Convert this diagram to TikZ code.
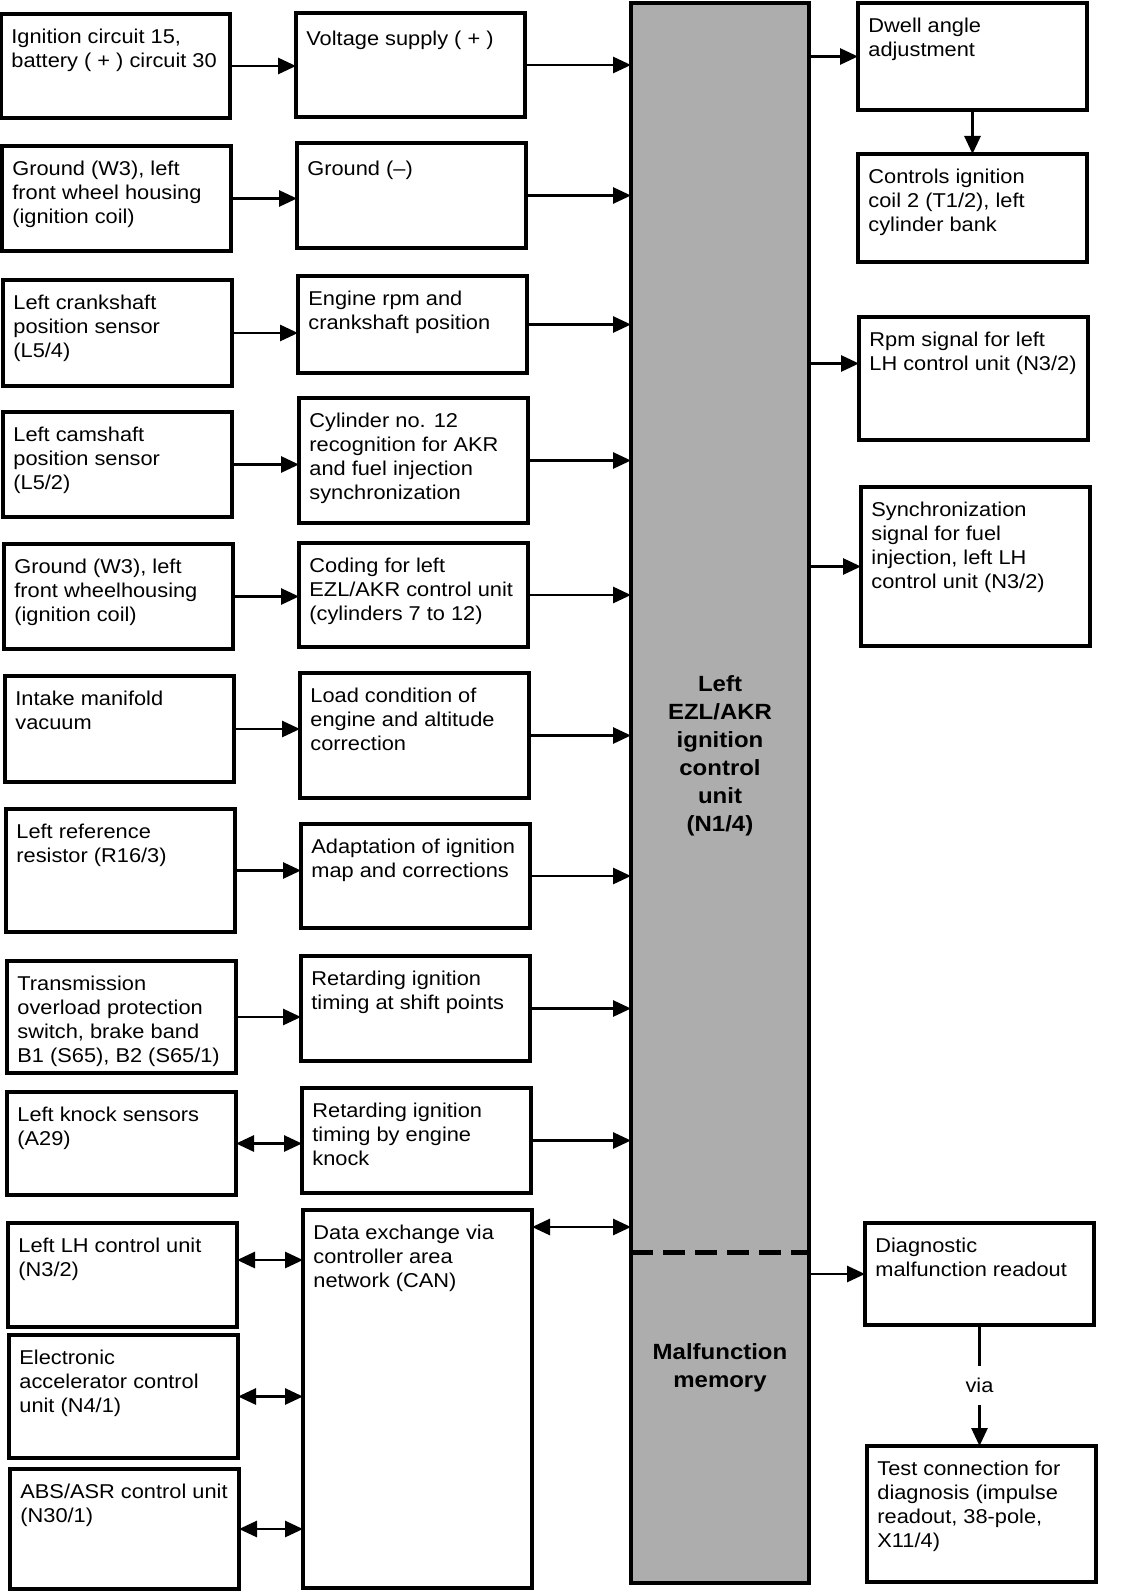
\documentclass[tikz,border=0pt]{standalone}
\usepackage{fontspec}
\setmainfont{Liberation Sans}[FakeStretch=1.09]
\usetikzlibrary{arrows.meta,positioning,calc}

\begin{document}
\begin{tikzpicture}[
    x=0.5pt, y=-0.5pt,
    block/.style={
        draw=black, line width=1.6pt, anchor=north west,
        outer sep=0pt, inner sep=0pt,
        minimum width=114.5pt, minimum height=#1
    },
    btext/.style={
        anchor=north west, inner sep=0pt, align=left,
        font=\fontsize{10}{12}\selectfont, execute at begin node=\strut
    },
    unittext/.style={
        align=center, font=\fontsize{11}{14}\selectfont\bfseries
    },
    arrow/.style={
        -{Triangle[length=9pt,width=8pt]}, line width=1.4pt
    },
    twoway/.style={
        {Triangle[length=9pt,width=8pt]}-{Triangle[length=9pt,width=8pt]}, line width=1.4pt
    },
    memline/.style={
        line width=2.5pt, dash pattern=on 11pt off 5pt
    },
    viatext/.style={
        fill=white, inner xsep=2pt, inner ysep=6pt, font=\fontsize{10}{12}\selectfont
    }
]
\useasboundingbox (0,0) rectangle (1120,1594);

% Control unit in the middle
\node[block=790pt, minimum width=89pt, fill=black!32] (unit) at (631,3) {};
\node[unittext] (unit-t) at (720,756) {Left\\EZL/AKR\\ignition\\control\\unit\\(N1/4)};
\node[unittext] (mem-t) at (720,1368) {Malfunction\\memory};
\coordinate (sep) at (720,1252);
\draw[memline] (unit.west |- sep) -- (unit.east |- sep);

% Input sources (left column)
\node[block=52pt] (ign) at (1,14) {};
\node[btext] (ign-t) at ([shift={(10,15)}]ign.north west) {Ignition circuit 15,\\battery ( + ) circuit 30};
\node[block=52.5pt] (gnd) at (2,146) {};
\node[btext] (gnd-t) at ([shift={(10,15)}]gnd.north west) {Ground (W3), left\\front wheel housing\\(ignition coil)};
\node[block=53pt] (crank) at (3,280) {};
\node[btext] (crank-t) at ([shift={(10,15)}]crank.north west) {Left crankshaft\\position sensor\\(L5/4)};
\node[block=52.5pt] (cam) at (3,412) {};
\node[btext] (cam-t) at ([shift={(10,15)}]cam.north west) {Left camshaft\\position sensor\\(L5/2)};
\node[block=52.5pt] (gndb) at (4,544) {};
\node[btext] (gndb-t) at ([shift={(10,15)}]gndb.north west) {Ground (W3), left\\front wheelhousing\\(ignition coil)};
\node[block=53pt] (vac) at (5,676) {};
\node[btext] (vac-t) at ([shift={(10,15)}]vac.north west) {Intake manifold\\vacuum};
\node[block=61.5pt] (ref) at (6,809) {};
\node[btext] (ref-t) at ([shift={(10,15)}]ref.north west) {Left reference\\resistor (R16/3)};
\node[block=56pt] (trans) at (7,961) {};
\node[btext] (trans-t) at ([shift={(10,15)}]trans.north west) {Transmission\\overload protection\\switch, brake band\\B1 (S65), B2 (S65/1)};
\node[block=51.5pt] (knock) at (7,1092) {};
\node[btext] (knock-t) at ([shift={(10,15)}]knock.north west) {Left knock sensors\\(A29)};
\node[block=52pt] (lh) at (8,1223) {};
\node[btext] (lh-t) at ([shift={(10,15)}]lh.north west) {Left LH control unit\\(N3/2)};
\node[block=61.5pt] (eacc) at (9,1335) {};
\node[btext] (eacc-t) at ([shift={(10,15)}]eacc.north west) {Electronic\\accelerator control\\unit (N4/1)};
\node[block=60pt] (abs) at (10,1469) {};
\node[btext] (abs-t) at ([shift={(10,15)}]abs.north west) {ABS/ASR control unit\\(N30/1)};

% Signals (middle column)
\node[block=52pt] (volt) at (296,13) {};
\node[btext] (volt-t) at ([shift={(10,15)}]volt.north west) {Voltage supply ( + )};
\node[block=52.5pt] (gndm) at (297,143) {};
\node[btext] (gndm-t) at ([shift={(10,15)}]gndm.north west) {Ground (–)};
\node[block=48.5pt] (eng) at (298,276) {};
\node[btext] (eng-t) at ([shift={(10,15)}]eng.north west) {Engine rpm and\\crankshaft position};
\node[block=62.5pt] (cyl) at (299,398) {};
\node[btext] (cyl-t) at ([shift={(10,15)}]cyl.north west) {Cylinder no. 12\\recognition for AKR\\and fuel injection\\synchronization};
\node[block=52pt] (code) at (299,543) {};
\node[btext] (code-t) at ([shift={(10,15)}]code.north west) {Coding for left\\EZL/AKR control unit\\(cylinders 7 to 12)};
\node[block=62.5pt] (load) at (300,673) {};
\node[btext] (load-t) at ([shift={(10,15)}]load.north west) {Load condition of\\engine and altitude\\correction};
\node[block=52pt] (adapt) at (301,824) {};
\node[btext] (adapt-t) at ([shift={(10,15)}]adapt.north west) {Adaptation of ignition\\map and corrections};
\node[block=52.5pt] (shift) at (301,956) {};
\node[btext] (shift-t) at ([shift={(10,15)}]shift.north west) {Retarding ignition\\timing at shift points};
\node[block=52.5pt] (knockr) at (302,1088) {};
\node[btext] (knockr-t) at ([shift={(10,15)}]knockr.north west) {Retarding ignition\\timing by engine\\knock};
\node[block=189pt] (can) at (303,1210) {};
\node[btext] (can-t) at ([shift={(10,15)}]can.north west) {Data exchange via\\controller area\\network (CAN)};

% Outputs (right column)
\node[block=53.5pt] (dwell) at (858,3) {};
\node[btext] (dwell-t) at ([shift={(10,15)}]dwell.north west) {Dwell angle\\adjustment};
\node[block=54pt] (coil) at (858,154) {};
\node[btext] (coil-t) at ([shift={(10,15)}]coil.north west) {Controls ignition\\coil 2 (T1/2), left\\cylinder bank};
\node[block=61.5pt] (rpm) at (859,317) {};
\node[btext] (rpm-t) at ([shift={(10,15)}]rpm.north west) {Rpm signal for left\\LH control unit (N3/2)};
\node[block=79.5pt] (sync) at (861,487) {};
\node[btext] (sync-t) at ([shift={(10,15)}]sync.north west) {Synchronization\\signal for fuel\\injection, left LH\\control unit (N3/2)};
\node[block=51pt] (diag) at (865,1223) {};
\node[btext] (diag-t) at ([shift={(10,15)}]diag.north west) {Diagnostic\\malfunction readout};
\node[block=68pt] (test) at (867,1446) {};
\node[btext] (test-t) at ([shift={(10,15)}]test.north west) {Test connection for\\diagnosis (impulse\\readout, 38-pole,\\X11/4)};

% Arrows from sources to signals
\draw[arrow] (ign.east) -- (ign.east -| volt.west);
\draw[arrow] (gnd.east) -- (gnd.east -| gndm.west);
\draw[arrow] (crank.east) -- (crank.east -| eng.west);
\draw[arrow] (cam.east) -- (cam.east -| cyl.west);
\draw[arrow] (gndb.east) -- (gndb.east -| code.west);
\draw[arrow] (vac.east) -- (vac.east -| load.west);
\draw[arrow] (ref.east) -- (ref.east -| adapt.west);
\draw[arrow] (trans.east) -- (trans.east -| shift.west);
\draw[twoway] (knock.east) -- (knock.east -| knockr.west);
\coordinate (lhin) at ([yshift=7.5pt]lh.east);
\draw[twoway] (lhin) -- (lhin -| can.west);
\draw[twoway] (eacc.east) -- (eacc.east -| can.west);
\draw[twoway] (abs.east) -- (abs.east -| can.west);

% Arrows from signals into the control unit
\draw[arrow] (volt.east) -- (volt.east -| unit.west);
\draw[arrow] (gndm.east) -- (gndm.east -| unit.west);
\draw[arrow] (eng.east) -- (eng.east -| unit.west);
\draw[arrow] (cyl.east) -- (cyl.east -| unit.west);
\draw[arrow] (code.east) -- (code.east -| unit.west);
\draw[arrow] (load.east) -- (load.east -| unit.west);
\draw[arrow] (adapt.east) -- (adapt.east -| unit.west);
\draw[arrow] (shift.east) -- (shift.east -| unit.west);
\draw[arrow] (knockr.east) -- (knockr.east -| unit.west);
\coordinate (canout) at ([yshift=-8.5pt]can.north east);
\draw[twoway] (canout) -- (canout -| unit.west);

% Arrows from the control unit to the outputs
\draw[arrow] (unit.east |- dwell.west) -- (dwell.west);
\draw[arrow] (dwell.south) -- (dwell.south |- coil.north);
\coordinate (rpmin) at ([yshift=7.5pt]rpm.west);
\draw[arrow] (rpmin -| unit.east) -- (rpmin);
\draw[arrow] (unit.east |- sync.west) -- (sync.west);
\draw[arrow] (unit.east |- diag.west) -- (diag.west);
\draw[arrow] (diag.south) -- node[viatext] (via) {via} (diag.south |- test.north);

\end{tikzpicture}
\end{document}
